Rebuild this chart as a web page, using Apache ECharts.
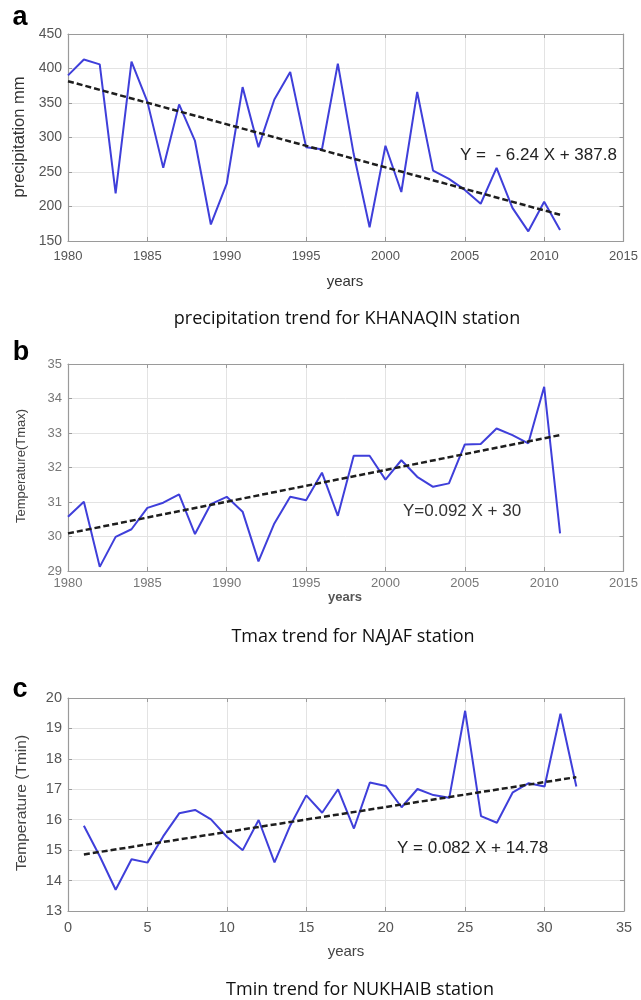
<!DOCTYPE html>
<html>
<head>
<meta charset="utf-8">
<script src="https://cdn.jsdelivr.net/npm/echarts@6/dist/echarts.min.js"></script>
<style>html,body{margin:0;padding:0;background:#fff}#c{width:641px;height:1000px}</style>
</head>
<body>
<div id="c"></div>
<script>
// ---- Data ----
const yearsA = [1980,1981,1982,1983,1984,1985,1986,1987,1988,1989,1990,1991,1992,1993,1994,1995,1996,1997,1998,1999,2000,2001,2002,2003,2004,2005,2006,2007,2008,2009,2010,2011];
const precip = [390,413,406,219,410,352,256,348,295,174,233,373,286,355,395,286,283,407,276,170,288,221,366,252,240,224,204,256,198,164,207,166];
const precipTrendX = [1980, 2011];
const precipTrendY = [381.6, 188.1];

const yearsB = yearsA;
const tmax = [30.57,31.01,29.12,29.99,30.21,30.83,30.98,31.22,30.07,30.94,31.15,30.72,29.28,30.38,31.15,31.05,31.85,30.6,32.34,32.34,31.65,32.21,31.73,31.44,31.54,32.67,32.68,33.13,32.94,32.70,34.34,30.09];
const tmaxTrendX = [1980, 2011];
const tmaxTrendY = [30.09, 32.94];

const idxC = [1,2,3,4,5,6,7,8,9,10,11,12,13,14,15,16,17,18,19,20,21,22,23,24,25,26,27,28,29,30,31,32];
const tmin = [15.80,14.8,13.70,14.70,14.59,15.46,16.21,16.32,16.01,15.44,15.0,15.99,14.60,15.82,16.80,16.23,17.0,15.71,17.22,17.11,16.41,17.01,16.81,16.72,19.58,16.12,15.90,16.90,17.20,17.09,19.48,17.09];
const tminTrendX = [1, 32];
const tminTrendY = [14.86, 17.40];

const zip = (xs, ys) => xs.map((x, i) => [x, ys[i]]);

// ---- Styles ----
const BLUE = '#3f3fda';
const gridLeft = 68, gridW = 556;
const grids = [
  {left: gridLeft, top: 34, width: gridW, height: 207},
  {left: gridLeft, top: 364, width: gridW, height: 207},
  {left: gridLeft, top: 698, width: gridW, height: 213}
];
const axisFont = 'Liberation Sans, Arial, sans-serif';
const plain = v => String(v);

function xAx(gi, min, max, fs, color, margin) {
  return [
    {type:'value', gridIndex:gi, min, max, interval:5, position:'bottom',
     axisLine:{show:true, onZero:false, lineStyle:{color:'#9a9a9a', width:1.2}},
     axisTick:{show:true, inside:true, length:4, lineStyle:{color:'#9a9a9a'}},
     axisLabel:{color, fontSize:fs, fontFamily:axisFont, margin, formatter:plain},
     splitLine:{show:true, lineStyle:{color:'#e3e3e3', width:1}}},
    {type:'value', gridIndex:gi, min, max, interval:5, position:'top',
     axisLine:{show:true, onZero:false, lineStyle:{color:'#9a9a9a', width:1.2}},
     axisTick:{show:true, inside:true, length:4, lineStyle:{color:'#9a9a9a'}},
     axisLabel:{show:false}, splitLine:{show:false}}
  ];
}
function yAx(gi, min, max, interval, fs, color) {
  return [
    {type:'value', gridIndex:gi, min, max, interval, position:'left',
     axisLine:{show:true, onZero:false, lineStyle:{color:'#9a9a9a', width:1.2}},
     axisTick:{show:true, inside:true, length:4, lineStyle:{color:'#9a9a9a'}},
     axisLabel:{color, fontSize:fs, fontFamily:axisFont, margin:6, formatter:plain},
     splitLine:{show:true, lineStyle:{color:'#e3e3e3', width:1}}},
    {type:'value', gridIndex:gi, min, max, interval, position:'right',
     axisLine:{show:true, onZero:false, lineStyle:{color:'#9a9a9a', width:1.2}},
     axisTick:{show:true, inside:true, length:4, lineStyle:{color:'#9a9a9a'}},
     axisLabel:{show:false}, splitLine:{show:false}}
  ];
}

const xAxis = [].concat(
  xAx(0, 1980, 2015, 13, '#555', 9),
  xAx(1, 1980, 2015, 13, '#777', 6),
  xAx(2, 0, 35, 14.5, '#555', 9)
);
const yAxis = [].concat(
  yAx(0, 150, 450, 50, 14, '#555'),
  yAx(1, 29, 35, 1, 13, '#777'),
  yAx(2, 13, 20, 1, 14.5, '#555')
);

function dataSeries(xi, yi, data) {
  return {type:'line', xAxisIndex:xi, yAxisIndex:yi, data, symbol:'none', silent:true,
          lineStyle:{color:BLUE, width:2}, z:3};
}
function trendSeries(xi, yi, data) {
  return {type:'line', xAxisIndex:xi, yAxisIndex:yi, data, symbol:'none', silent:true,
          lineStyle:{color:'#1e1e1e', width:2.5, type:[6,3]}, z:4};
}

const series = [
  dataSeries(0, 0, zip(yearsA, precip)),
  trendSeries(0, 0, zip(precipTrendX, precipTrendY)),
  dataSeries(2, 2, zip(yearsB, tmax)),
  trendSeries(2, 2, zip(tmaxTrendX, tmaxTrendY)),
  dataSeries(4, 4, zip(idxC, tmin)),
  trendSeries(4, 4, zip(tminTrendX, tminTrendY))
];

const T = (x, y, text, font, opts) => Object.assign({
  type:'text', x, y, z:100, silent:true,
  style:Object.assign({text, font, fill:'#111', align:'center', verticalAlign:'middle'}, (opts||{}).style || {})
}, opts && opts.rotation ? {rotation: opts.rotation} : {});

const sans = 'Liberation Sans, Arial, sans-serif';
const cap = 'Open Sans, sans-serif';
const graphic = [
  // panel letters
  T(20, 18, 'a', 'bold 27px ' + sans, {style:{fill:'#000'}}),
  T(21, 353, 'b', 'bold 27px ' + sans, {style:{fill:'#000'}}),
  T(20, 690, 'c', 'bold 27px ' + sans, {style:{fill:'#000'}}),
  // y axis names
  T(19, 137, 'precipitation mm', '16.5px ' + sans, {rotation:Math.PI/2, style:{fill:'#333'}}),
  T(21, 466, 'Temperature(Tmax)', '13px ' + sans, {rotation:Math.PI/2, style:{fill:'#444'}}),
  T(22, 803, 'Temperature (Tmin)', '15.5px ' + sans, {rotation:Math.PI/2, style:{fill:'#444'}}),
  // x axis names
  T(345, 282, 'years', '15px ' + sans, {style:{fill:'#333'}}),
  T(345, 597, 'years', 'bold 13px ' + sans, {style:{fill:'#555'}}),
  T(346, 952, 'years', '15px ' + sans, {style:{fill:'#444'}}),
  // equations
  T(460, 155, 'Y =  - 6.24 X + 387.8', '17px ' + sans, {style:{fill:'#222', align:'left'}}),
  T(403, 511, 'Y=0.092 X + 30', '17px ' + sans, {style:{fill:'#333', align:'left'}}),
  T(397, 848, 'Y = 0.082 X + 14.78', '17px ' + sans, {style:{fill:'#222', align:'left'}}),
  // captions
  T(347, 319, 'precipitation trend for KHANAQIN station', '18px ' + cap, {style:{fill:'#111'}}),
  T(353, 637, 'Tmax trend for NAJAF station', '18px ' + cap, {style:{fill:'#111'}}),
  T(360, 990, 'Tmin trend for NUKHAIB station', '18px ' + cap, {style:{fill:'#111'}})
];

const chart = echarts.init(document.getElementById('c'), null, {renderer:'canvas'});
chart.setOption({
  animation:false,
  backgroundColor:'#fff',
  grid: grids,
  xAxis, yAxis, series, graphic
});
</script>
</body>
</html>
